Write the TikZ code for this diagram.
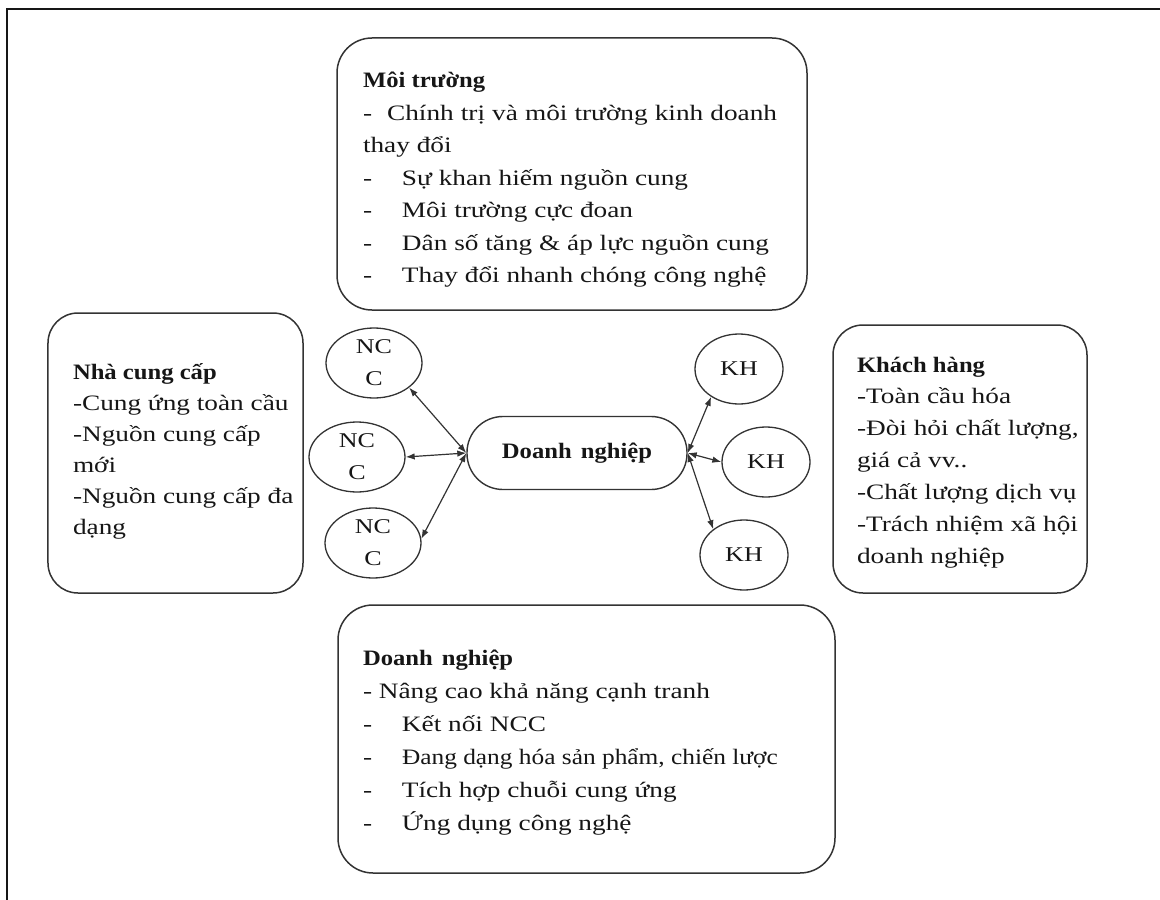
\documentclass[tikz,border=0pt]{standalone}
\usepackage{fontspec}
\setmainfont[FakeStretch=1.24, BoldFeatures={FakeStretch=1.12}]{Liberation Serif}
\usetikzlibrary{arrows.meta,shapes.geometric}
\definecolor{ink}{HTML}{161616}
\definecolor{rule}{HTML}{333333}

\begin{document}
\begin{tikzpicture}[x=1bp,y=-1bp,
  txt/.style={anchor=base west, inner sep=0pt, outer sep=0pt, text=ink,
    font=\fontsize{22bp}{26bp}\selectfont},
  panel/.style={draw=rule, line width=1.5bp, rectangle, rounded corners=#1,
    inner sep=0pt},
  panel/.default=32bp,
  party/.style={draw=rule, line width=1.3bp, ellipse, inner sep=0pt,
    minimum width=#1, minimum height=70bp, align=center, text=ink,
    font=\fontsize{21bp}{32bp}\selectfont},
  party/.default=96bp,
  hub/.style={draw=rule, line width=1.4bp, rectangle, rounded corners=36bp,
    minimum width=220bp, minimum height=73bp, text=ink,
    font=\fontsize{22bp}{26bp}\selectfont\bfseries},
  link/.style={draw=rule, line width=1.2bp,
    {Latex[length=9bp,width=6.5bp]}-{Latex[length=9bp,width=6.5bp]}},
  frame/.style={draw=ink, line width=1.8bp}
]
\useasboundingbox (0,0) rectangle (1160,900);

% page frame (top and left rules)
\coordinate (frBL) at (7,900);
\coordinate (frTL) at (7,9);
\coordinate (frTR) at (1160,9);
\draw[frame] (frBL) -- (frTL) -- (frTR);

% four surrounding panels
\node[panel=35bp, minimum width=470bp, minimum height=272bp] (envbox)  at (572,174) {};
\node[panel=30bp, minimum width=255bp, minimum height=280bp] (supbox)  at (175.5,453) {};
\node[panel=30bp, minimum width=254bp, minimum height=268bp] (custbox) at (960,459) {};
\node[panel=35bp, minimum width=497bp, minimum height=268bp] (firmbox) at (586.5,739) {};

% environment panel text
\node[txt] (m0) at (363,87)  {\textbf{Môi trường}};
\node[txt] (m1) at (363,120) {\makebox[414bp][s]{-\hspace{8bp} Chính trị và môi trường kinh doanh}};
\node[txt] (m2) at (363,152) {thay đổi};
\node[txt] (m3) at (363,185) {\makebox[39bp][l]{-}Sự khan hiếm nguồn cung};
\node[txt] (m4) at (363,217) {\makebox[39bp][l]{-}Môi trường cực đoan};
\node[txt] (m5) at (363,250) {\makebox[39bp][l]{-}Dân số tăng \& áp lực nguồn cung};
\node[txt] (m6) at (363,282) {\makebox[39bp][l]{-}Thay đổi nhanh chóng công nghệ};

% supplier panel text
\node[txt] (s0) at (73,379) {\textbf{Nhà cung cấp}};
\node[txt] (s1) at (73,410) {-Cung ứng toàn cầu};
\node[txt] (s2) at (73,441) {-Nguồn cung cấp};
\node[txt] (s3) at (73,472) {mới};
\node[txt] (s4) at (73,503) {-Nguồn cung cấp đa};
\node[txt] (s5) at (73,534) {dạng};

% customer panel text
\node[txt] (k0) at (857,372) {\textbf{Khách hàng}};
\node[txt] (k1) at (857,403) {-Toàn cầu hóa};
\node[txt] (k2) at (857,435) {-Đòi hỏi chất lượng,};
\node[txt] (k3) at (857,467) {giá cả vv..};
\node[txt] (k4) at (857,499) {-Chất lượng dịch vụ};
\node[txt] (k5) at (857,531) {-Trách nhiệm xã hội};
\node[txt] (k6) at (857,563) {doanh nghiệp};

% enterprise panel text
\node[txt] (d0) at (363,665) {\textbf{Doanh\hspace{3bp} nghiệp}};
\node[txt] (d1) at (363,698) {- Nâng cao khả năng cạnh tranh};
\node[txt] (d2) at (363,731) {\makebox[39bp][l]{-}Kết nối NCC};
\node[txt] (d3) at (363,764) {\makebox[39bp][l]{-}\scalebox{0.93}[1]{Đang dạng hóa sản phẩm, chiến lược}};
\node[txt] (d4) at (363,797) {\makebox[39bp][l]{-}Tích hợp chuỗi cung ứng};
\node[txt] (d5) at (363,830) {\makebox[39bp][l]{-}Ứng dụng công nghệ};

% central enterprise node
\node[hub] (dn) at (577,453) {Doanh\hspace{3bp} nghiệp};

% suppliers
\node[party] (ncc1) at (374,363) {NC\\C};
\node[party] (ncc2) at (357,457) {NC\\C};
\node[party] (ncc3) at (373,543) {NC\\C};

% customers
\node[party=88bp] (kh1) at (739,369) {KH};
\node[party=88bp] (kh2) at (766,462) {KH};
\node[party=88bp] (kh3) at (744,555) {KH};

% two-way links
\draw[link] (dn.west) -- (ncc1.-35);
\draw[link] (dn.west) -- (ncc2.east);
\draw[link] (dn.west) -- (ncc3.5);
\draw[link] (dn.east) -- (kh1.-135);
\draw[link] (dn.east) -- (kh2.west);
\draw[link] (dn.east) -- (kh3.140);
\end{tikzpicture}
\end{document}
